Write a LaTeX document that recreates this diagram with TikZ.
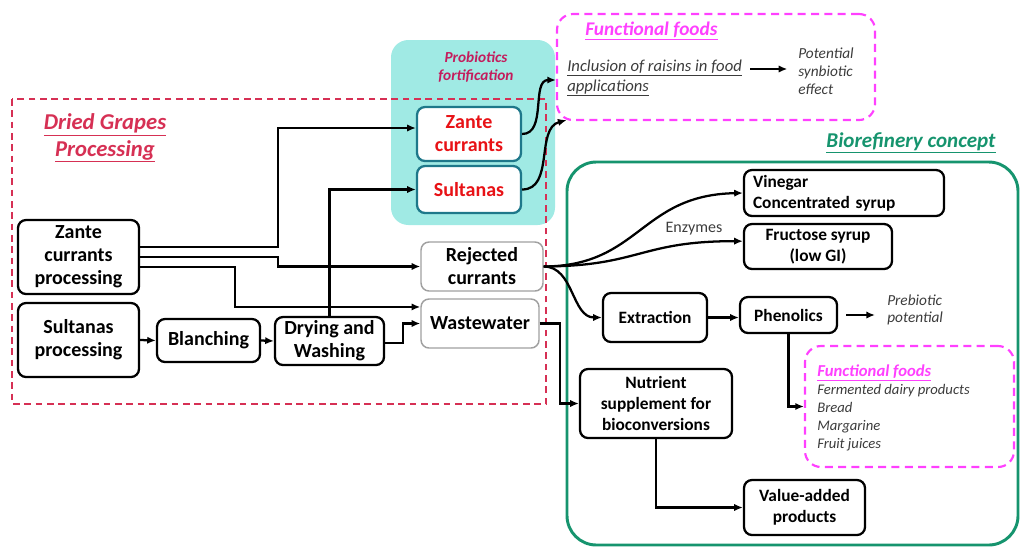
\documentclass[tikz,border=0pt]{standalone}
\usepackage{fontspec}
\setmainfont{Carlito}
\usetikzlibrary{arrows.meta,calc}
\definecolor{framered}{RGB}{214,48,84}
\definecolor{cyanbg}{RGB}{160,234,228}
\definecolor{tealb}{RGB}{30,120,138}
\definecolor{redt}{RGB}{232,18,22}
\definecolor{mag}{RGB}{255,64,255}
\definecolor{greenb}{RGB}{22,148,110}
\definecolor{grayb}{RGB}{160,160,160}
\definecolor{txtg}{RGB}{60,60,60}
\definecolor{probc}{RGB}{196,28,92}
\begin{document}
\begin{tikzpicture}[x=0.75pt,y=-0.75pt,
 bx/.style={draw, line width=1.7pt, rounded corners=6pt, inner sep=0pt, align=center, font=\bfseries\fontsize{15}{17.25}\selectfont},
 rbx/.style={bx, draw=tealb, text=redt, fill=white},
 gbx/.style={bx, draw=grayb, line width=1.1pt},
 sbx/.style={bx, font=\bfseries\fontsize{13}{15.5}\selectfont},
 conn/.style={line width=1.7pt, -{Latex[length=6.5pt,width=5.5pt]}},
 lbl/.style={inner sep=0pt, align=left, anchor=west},
 pinkframe/.style={draw=mag, line width=1.6pt, dash pattern=on 6pt off 4pt, rounded corners=12pt, inner sep=0pt},
]
\useasboundingbox (0,0) rectangle (1021,547);
% frames
\fill[cyanbg, rounded corners=13pt] (391,40) rectangle (555,225);
\draw[framered, line width=1.9pt, dash pattern=on 5pt off 3.5pt] (12,99) rectangle (546,404);
\draw[greenb, line width=2.2pt, rounded corners=22pt] (567,162) rectangle (1018,545);
\node[pinkframe, minimum width=238.5pt, minimum height=79.5pt] (ffbox) at (716,67) {};
\node[pinkframe, minimum width=156.75pt, minimum height=90.75pt] (ff2) at (909.5,406.5) {};
% boxes
\node[bx, minimum width=90.75pt, minimum height=55.5pt] (zp) at (78.5,257) {Zante\\currants\\processing};
\node[bx, minimum width=90.75pt, minimum height=55.5pt] (sp) at (78.5,340) {Sultanas\\processing};
\node[bx, minimum width=77.25pt, minimum height=32.25pt] (bl) at (208.5,340.5) {Blanching};
\node[bx, minimum width=81.75pt, minimum height=36pt] (dw) at (329.5,341) {Drying and\\Washing};
\node[rbx, minimum width=78pt, minimum height=40.5pt] (zc) at (469,134) {Zante\\currants};
\node[rbx, minimum width=78pt, minimum height=35.25pt] (su) at (469,189.5) {Sultanas};
\node[gbx, minimum width=91.5pt, minimum height=36.75pt] (rc) at (482,266.5) {Rejected\\currants};
\node[gbx, minimum width=88.5pt, minimum height=36.75pt] (ww) at (480,323.5) {Wastewater};
\node[sbx, inner xsep=6.75pt, text width=136.5pt, minimum height=34.5pt, align=left] (vin) at (844,193) {Vinegar\\Concentrated syrup};
\node[sbx, minimum width=111pt, minimum height=33.75pt] (fru) at (818,246.5) {Fructose syrup\\(low GI)};
\node[sbx, minimum width=78pt, minimum height=36.75pt] (ext) at (655,317.5) {Extraction};
\node[sbx, minimum width=72.75pt, minimum height=27pt] (phe) at (788.5,315) {Phenolics};
\node[sbx, minimum width=114pt, minimum height=51.75pt, font=\bfseries\fontsize{13}{15.75}\selectfont] (nut) at (656,403.5) {Nutrient\\supplement for\\bioconversions};
\node[sbx, minimum width=90.75pt, minimum height=41.25pt] (val) at (804.5,507.5) {Value-added\\products};
% texts
\node[font=\bfseries\itshape\fontsize{17}{20}\selectfont, text=framered, align=center, inner sep=0pt] (title) at (105,138) {\underline{Dried Grapes}\\\underline{Processing}};
\node[font=\bfseries\itshape\fontsize{11.5}{13.5}\selectfont, text=probc, align=center, inner sep=0pt] (prob) at (476,67) {Probiotics\\fortification};
\node[lbl, font=\bfseries\itshape\fontsize{14.5}{17}\selectfont, text=mag] (fft) at (585,31) {\underline{Functional foods}};
\node[lbl, font=\itshape\fontsize{12.5}{15}\selectfont, text=txtg] (inc) at (567,78) {\underline{Inclusion of raisins in food}\\\underline{applications}};
\node[lbl, font=\itshape\fontsize{11.5}{13.5}\selectfont, text=txtg] (pot) at (798,71) {Potential\\synbiotic\\effect};
\node[font=\bfseries\itshape\fontsize{15.8}{18}\selectfont, text=greenb, inner sep=0pt] (bio) at (911,143) {\underline{Biorefinery concept}};
\node[font=\fontsize{12}{14}\selectfont, text=txtg, inner sep=0pt] (enz) at (694,229) {Enzymes};
\node[lbl, font=\itshape\fontsize{11.5}{13}\selectfont, text=txtg] (pre) at (887,310) {Prebiotic\\potential};
\node[lbl, font=\itshape\fontsize{11}{13.5}\selectfont, text=txtg] (ffl) at (817,408) {{\bfseries\fontsize{12.5}{13.5}\selectfont\color{mag}\underline{Functional foods}}\\Fermented dairy products\\Bread\\Margarine\\Fruit juices};
% connectors
\draw[conn] ([yshift=7.5pt]zp.east) -- ++(138,0) |- ([yshift=4.5pt]zc.west);
\draw[conn] (zp.east) -- ++(138,0) |- (rc.west);
\draw[conn] ([yshift=-7.5pt]zp.east) -- ++(95,0) |- ([yshift=12.4pt]ww.west);
\draw[conn] (sp.east) -- (bl.west);
\draw[conn] (bl.east) -- (dw.west);
\draw[conn] (dw.north) |- (su.west);
\draw[conn] ([yshift=-1.5pt]dw.east) -- ++(18,0) |- (ww.west);
\draw[conn] (ww.east) -- ++(20,0) |- (nut.west);
\draw[conn] (zc.east) to[out=0,in=180] ([yshift=-9.75pt]ffbox.west);
\draw[conn] (su.east) to[out=0,in=195] ([xshift=8pt,yshift=0.75pt]ffbox.south west);
\draw[conn] (rc.east) .. controls (640,266) and (640,195) .. (vin.west);
\draw[conn] (rc.east) .. controls (640,266) and (640,241) .. ([yshift=4pt]fru.west);
\draw[conn] (rc.east) to[out=0,in=180] (ext.west);
\draw[conn] (ext.east) -- (ext.east -| phe.west);
\draw[conn, shorten >=9pt] ([xshift=6pt]phe.east) -- (phe.east -| pre.west);
\draw[conn] (phe.south) |- (ff2.west);
\draw[conn] (nut.south) |- (val.west);
\coordinate (ia) at ([shift={(6pt,6.75pt)}]inc.east);
\draw[conn, shorten >=8pt] (ia) -- (ia -| pot.west);
\end{tikzpicture}
\end{document}
